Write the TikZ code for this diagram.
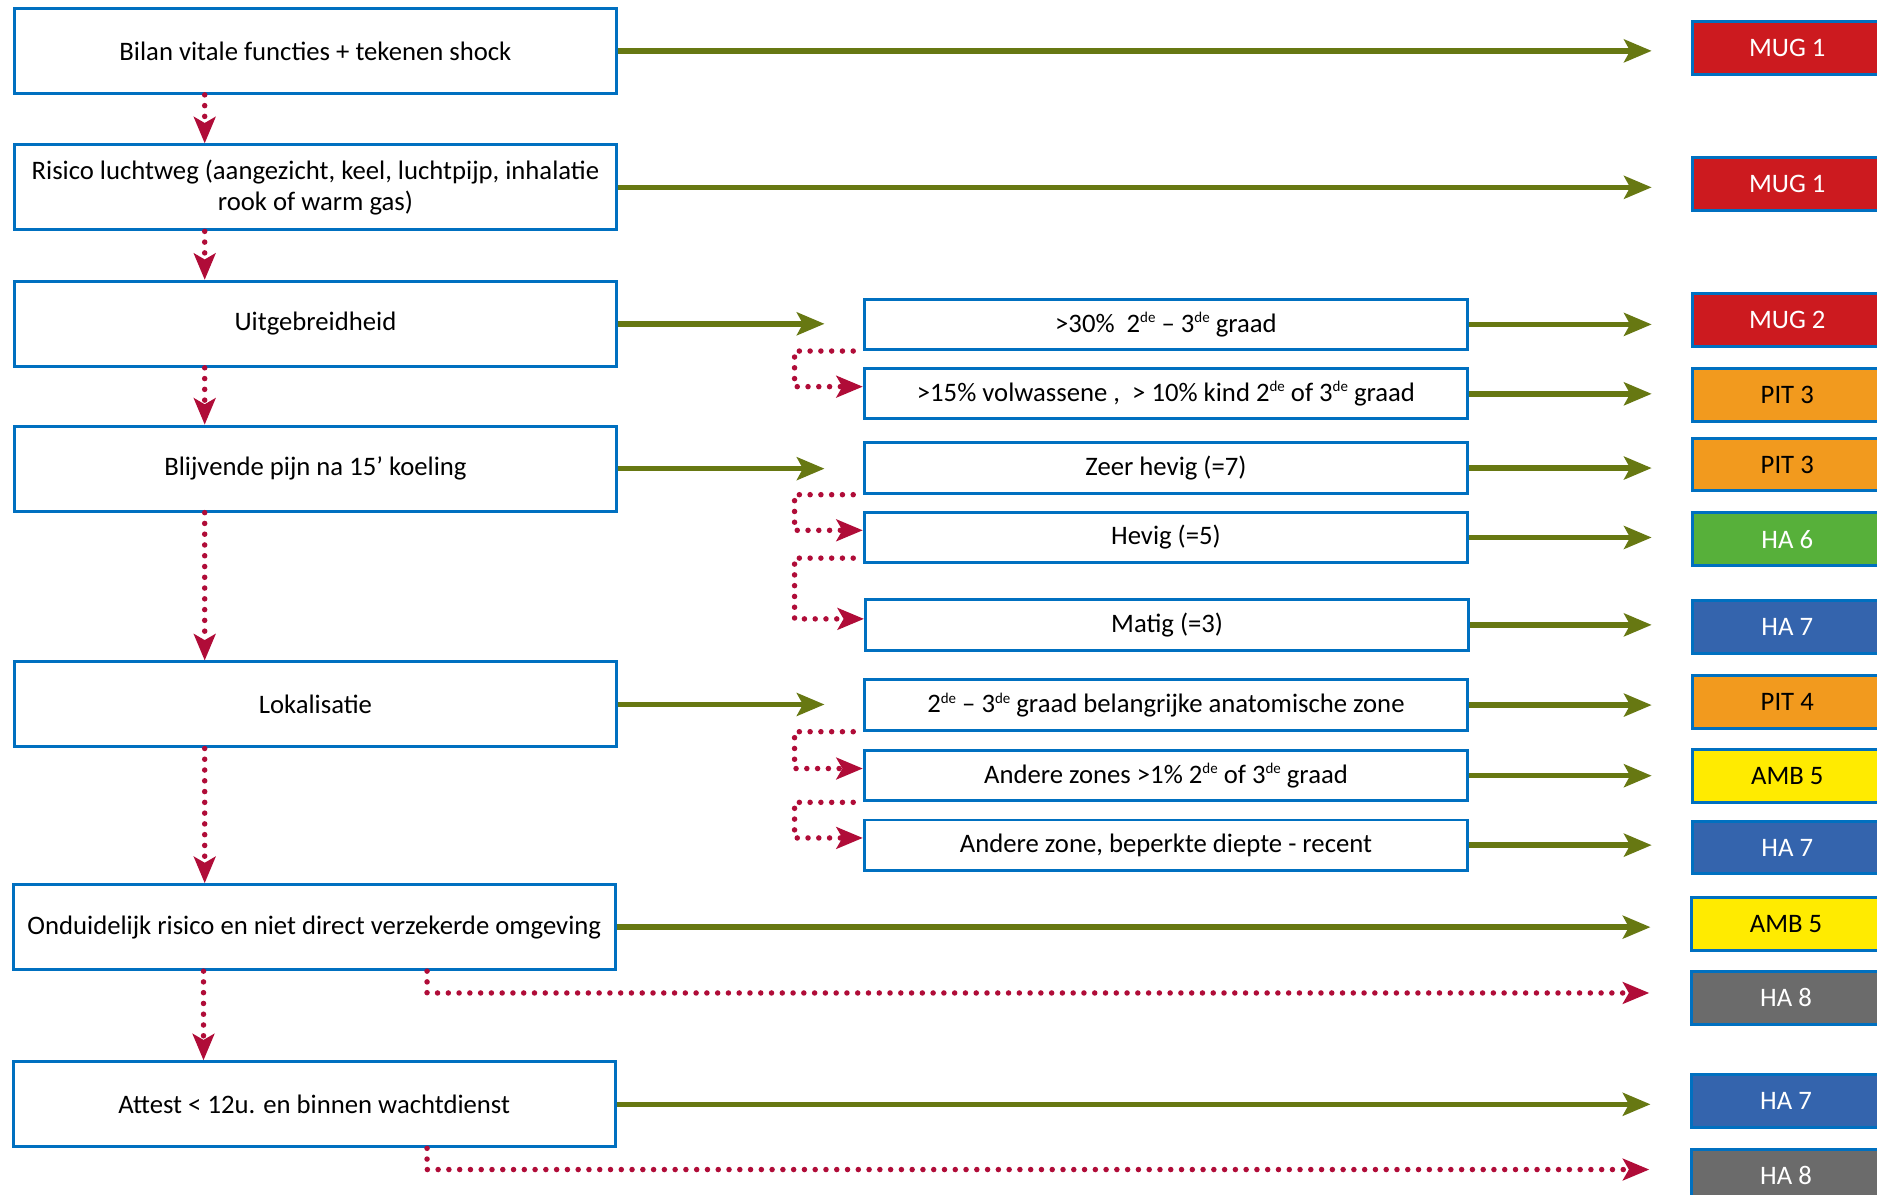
\documentclass[tikz,border=0pt]{standalone}
\usepackage{fontspec}
\setmainfont{Carlito}
\usetikzlibrary{arrows.meta,calc}
\definecolor{bord}{HTML}{0070C0}
\definecolor{olivegr}{HTML}{677812}
\definecolor{crim}{HTML}{B00C38}
\definecolor{cred}{HTML}{CC1A1F}
\definecolor{corange}{HTML}{F29A1E}
\definecolor{cgreen}{HTML}{57B03A}
\definecolor{cblue}{HTML}{3464AD}
\definecolor{cyellow}{HTML}{FFEB00}
\definecolor{cgray}{HTML}{6B6B6B}
\newcommand{\supde}{\raisebox{0.75ex}{\fontsize{12.5}{12.5}\selectfont de}}
\begin{document}
\begin{tikzpicture}[x=1pt,y=-1pt,font=\fontsize{22.3}{26}\selectfont,
  lbox/.style={draw=bord,line width=2.5pt,fill=white,minimum width=503pt,minimum height=71pt,inner sep=0pt,align=center},
  mbox/.style={draw=bord,line width=2.5pt,fill=white,minimum width=504pt,minimum height=42pt,inner sep=0pt},
  rbox/.style={draw=bord,line width=2.5pt,minimum width=158pt,minimum height=44pt,inner sep=0pt},
  wtext/.style={text=white},
  garrow/.style={draw=olivegr,line width=4.5pt,-{Stealth[length=23pt,width=19pt,inset=5pt]}},
  rarrow/.style={draw=crim,line width=4.6pt,line cap=round,dash pattern=on 0pt off 9pt,-{Stealth[length=22pt,width=18pt,inset=5pt]}},
]
\useasboundingbox (0,0) rectangle (1568,998);
\fill[white] (0,0) rectangle (1568,998);

% left column
\node[lbox] (L1) at (263.5,42.5) {Bilan vitale functies + tekenen shock};
\node[lbox] (L2) at (263.5,156.5) {Risico luchtweg (aangezicht, keel, luchtpijp, inhalatie\\rook of warm gas)};
\node[lbox] (L3) at (263.5,270.5) {Uitgebreidheid};
\node[lbox] (L4) at (263.5,391.5) {Blijvende pijn na 15’ koeling};
\node[lbox] (L5) at (263.5,588.5) {Lokalisatie};
\node[lbox] (L6) at (262.5,774.5) {Onduidelijk risico en niet direct verzekerde omgeving};
\node[lbox] (L7) at (262.5,922.5) {Attest < 12u. en binnen wachtdienst};

% middle column
\node[mbox] (Ma) at (974,271) {>30\%\ \ 2\supde{} – 3\supde{} graad};
\node[mbox] (Mb) at (974,329) {>15\% volwassene ,\ \ > 10\% kind 2\supde{} of 3\supde{} graad};
\node[mbox] (Mc) at (974,391) {Zeer hevig (=7)};
\node[mbox] (Md) at (974,449) {Hevig (=5)};
\node[mbox] (Me) at (975,522) {Matig (=3)};
\node[mbox] (Mf) at (974,589) {2\supde{} – 3\supde{} graad belangrijke anatomische zone};
\node[mbox] (Mg) at (974,648) {Andere zones >1\% 2\supde{} of 3\supde{} graad};
\node[mbox] (Mh) at (974,706) {Andere zone, beperkte diepte - recent};

% right column
\node[rbox,fill=cred,wtext] (R1) at (1493,40) {MUG 1};
\node[rbox,fill=cred,wtext] (R2) at (1493,153.5) {MUG 1};
\node[rbox,fill=cred,wtext] (R3) at (1493,267.5) {MUG 2};
\node[rbox,fill=corange] (R4) at (1493,330) {PIT 3};
\node[rbox,fill=corange] (R5) at (1493,388) {PIT 3};
\node[rbox,fill=cgreen,wtext] (R6) at (1493,450.5) {HA 6};
\node[rbox,fill=cblue,wtext] (R7) at (1493,524) {HA 7};
\node[rbox,fill=corange] (R8) at (1493,586.5) {PIT 4};
\node[rbox,fill=cyellow] (R9) at (1493,648.5) {AMB 5};
\node[rbox,fill=cblue,wtext] (R10) at (1493,708) {HA 7};
\node[rbox,fill=cyellow] (R11) at (1492,772) {AMB 5};
\node[rbox,fill=cgray,wtext] (R12) at (1492,833.5) {HA 8};
\node[rbox,fill=cblue,wtext] (R13) at (1492,920) {HA 7};
\node[rbox,fill=cgray,wtext] (R14) at (1492,982) {HA 8};

% vertical dotted arrows
\coordinate (vx) at (171,0);
\coordinate (vy) at (170,0);
\draw[rarrow] (L1.south -| vx) -- (L2.north -| vx);
\draw[rarrow] (L2.south -| vx) -- (L3.north -| vx);
\draw[rarrow] (L3.south -| vx) -- (L4.north -| vx);
\draw[rarrow] (L4.south -| vx) -- (L5.north -| vx);
\draw[rarrow] (L5.south -| vx) -- (L6.north -| vx);
\draw[rarrow] (L6.south -| vy) -- (L7.north -| vy);

% green arrows left -> right column
\draw[garrow,shorten >=33pt] (L1.east) -- (L1.east -| R1.west);
\draw[garrow,shorten >=33pt] (L2.east) -- (L2.east -| R2.west);
\draw[garrow,shorten >=33pt] (L6.east) -- (L6.east -| R11.west);
\draw[garrow,shorten >=33pt] (L7.east) -- (L7.east -| R13.west);

% green arrows left -> middle
\draw[garrow,shorten >=32pt] (L3.east) -- (L3.east -| Ma.west);
\draw[garrow,shorten >=32pt] (L4.east) -- (L4.east -| Mc.west);
\draw[garrow,shorten >=32pt] (L5.east) -- (L5.east -| Mf.west);

% green arrows middle -> right
\draw[garrow,shorten >=33pt] (Ma.east) -- (Ma.east -| R3.west);
\draw[garrow,shorten >=33pt] (Mb.east) -- (Mb.east -| R4.west);
\draw[garrow,shorten >=33pt] (Mc.east) -- (Mc.east -| R5.west);
\draw[garrow,shorten >=33pt] (Md.east) -- (Md.east -| R6.west);
\draw[garrow,shorten >=33pt] (Me.east) -- (Me.east -| R7.west);
\draw[garrow,shorten >=33pt] (Mf.east) -- (Mf.east -| R8.west);
\draw[garrow,shorten >=33pt] (Mg.east) -- (Mg.east -| R9.west);
\draw[garrow,shorten >=33pt] (Mh.east) -- (Mh.east -| R10.west);

% dotted middle connectors
\draw[rarrow] ([xshift=-8pt]Ma.south west) -- ++(-49,0) |- ([yshift=6pt]Mb.west);
\draw[rarrow] ([xshift=-8pt]Mc.south west) -- ++(-49,0) |- ([yshift=6pt]Md.west);
\draw[rarrow] ([xshift=-8pt,yshift=5pt]Md.south west) -- ++(-49,0) |- ([yshift=5pt]Me.west);
\draw[rarrow] ([xshift=-8pt]Mf.south west) -- ++(-49,0) |- ([yshift=6pt]Mg.west);
\draw[rarrow] ([xshift=-8pt]Mg.south west) -- ++(-49,0) |- ([yshift=6pt]Mh.west);

% dotted bottom connectors
\draw[rarrow,shorten >=34pt] ([xshift=347pt]L6.south west) |- ([yshift=4pt]R12.west);
\draw[rarrow,shorten >=34pt] ([xshift=347pt]L7.south west) |- ([yshift=5pt]R14.west);
\end{tikzpicture}
\end{document}
